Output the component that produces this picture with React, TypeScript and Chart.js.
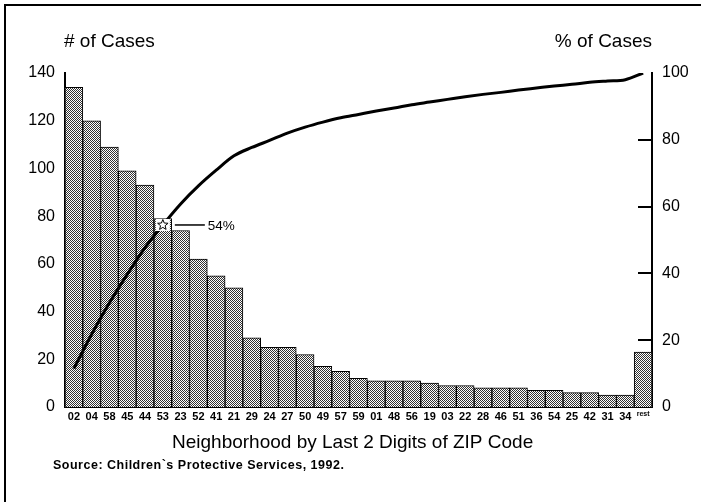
import { useEffect, useRef } from 'react';
import { Chart, registerables } from 'chart.js';

Chart.register(...registerables);

const FONT = '"Liberation Sans", Arial, Helvetica, sans-serif';

const categories = ['02', '04', '58', '45', '44', '53', '23', '52', '41', '21', '29', '24', '27', '50', '49', '57', '59', '01', '48', '56', '19', '03', '22', '28', '46', '51', '36', '54', '25', '42', '31', '34', 'rest'];
const caseCounts = [134, 120, 109, 99, 93, 79, 74, 62, 55, 50, 29, 25, 25, 22, 17, 15, 12, 11, 11, 11, 10, 9, 9, 8, 8, 8, 7, 7, 6, 6, 5, 5, 23];
const cumulativePct = [11.5, 21.8, 31.2, 39.7, 47.7, 54.5, 60.8, 66.2, 70.9, 75.2, 77.7, 79.8, 82.0, 83.8, 85.3, 86.6, 87.6, 88.6, 89.5, 90.5, 91.3, 92.1, 92.9, 93.6, 94.2, 94.9, 95.5, 96.1, 96.6, 97.2, 97.6, 98.0, 100];
const leftTickMax = 140;
const rightTickMax = 100;
const tickStep = 20;
const rightInnerTicks = [20, 40, 60, 80];
const markerIndex = 5;
const markerLabel = '54%';

const leftTitle = '# of Cases';
const rightTitle = '% of Cases';
const xTitle = 'Neighborhood by Last 2 Digits of ZIP Code';
const sourceText = 'Source: Children`s Protective Services, 1992.';

export default function App() {
  const ref = useRef<HTMLCanvasElement>(null);

  useEffect(() => {
    document.body.style.margin = '0';
    const canvas = ref.current!;
    const pc = document.createElement('canvas');
    pc.width = 2;
    pc.height = 2;
    const pctx = pc.getContext('2d')!;
    pctx.fillStyle = '#ffffff';
    pctx.fillRect(0, 0, 2, 2);
    pctx.fillStyle = '#333333';
    pctx.fillRect(0, 0, 1, 1);
    pctx.fillRect(1, 1, 1, 1);
    const pattern = canvas.getContext('2d')!.createPattern(pc, 'repeat');

    const deco = {
      id: 'deco',
      afterDraw(chart: any) {
        const { ctx, scales } = chart;
        const x = scales.x;
        const y1 = scales.y1;
        ctx.save();
        // frame
        ctx.strokeStyle = '#000';
        ctx.lineWidth = 2;
        ctx.beginPath();
        ctx.moveTo(5, 502);
        ctx.lineTo(5, 5);
        ctx.lineTo(701, 5);
        ctx.stroke();

        // inward ticks on right axis
        ctx.lineWidth = 2;
        rightInnerTicks.forEach((v) => {
          const py = Math.round(y1.getPixelForValue(v));
          ctx.beginPath();
          ctx.moveTo(y1.left - 14, py);
          ctx.lineTo(y1.left, py);
          ctx.stroke();
        });

        // titles
        ctx.fillStyle = '#000';
        ctx.textBaseline = 'middle';
        ctx.font = `19px ${FONT}`;
        ctx.textAlign = 'left';
        ctx.fillText(leftTitle, 64, 42);
        ctx.textAlign = 'right';
        ctx.fillText(rightTitle, 652, 42);
        ctx.textAlign = 'left';
        ctx.fillText(xTitle, 172, 443);
        ctx.font = `bold 12.5px ${FONT}`;
        try {
          (ctx as any).letterSpacing = '0.5px';
        } catch (e) {}
        ctx.fillText(sourceText, 53, 466);
        try {
          (ctx as any).letterSpacing = '0px';
        } catch (e) {}

        // marker
        const mx = x.getPixelForValue(markerIndex);
        const my = y1.getPixelForValue(cumulativePct[markerIndex]);
        ctx.fillStyle = '#fff';
        ctx.fillRect(mx - 7, my - 6, 14, 12);
        ctx.beginPath();
        for (let i = 0; i < 10; i++) {
          const r = i % 2 === 0 ? 5.5 : 2.4;
          const a = -Math.PI / 2 + (i * Math.PI) / 5;
          const px = mx + r * Math.cos(a);
          const py = my + r * Math.sin(a);
          if (i === 0) ctx.moveTo(px, py);
          else ctx.lineTo(px, py);
        }
        ctx.closePath();
        ctx.fillStyle = '#fff';
        ctx.fill();
        ctx.lineWidth = 1;
        ctx.strokeStyle = '#000';
        ctx.stroke();
        ctx.lineWidth = 1.5;
        ctx.beginPath();
        ctx.moveTo(mx + 12, my);
        ctx.lineTo(mx + 42, my);
        ctx.stroke();
        ctx.fillStyle = '#000';
        ctx.font = `13.5px ${FONT}`;
        ctx.textAlign = 'left';
        ctx.fillText(markerLabel, mx + 45, my + 1);
        ctx.restore();
      },
    };

    const chart = new Chart(canvas, {
      type: 'bar',
      data: {
        labels: categories,
        datasets: [
          {
            type: 'line',
            label: '% of Cases',
            data: cumulativePct,
            yAxisID: 'y1',
            borderColor: '#000',
            borderWidth: 3,
            pointRadius: 0,
            cubicInterpolationMode: 'monotone',
            fill: false,
            order: 0,
          } as any,
          {
            type: 'bar',
            label: '# of Cases',
            data: caseCounts,
            yAxisID: 'y',
            backgroundColor: pattern as any,
            borderColor: '#000',
            borderWidth: 1,
            categoryPercentage: 1,
            barPercentage: 1,
            order: 1,
          },
        ],
      },
      options: {
        responsive: false,
        maintainAspectRatio: false,
        animation: false,
        devicePixelRatio: 1,
        layout: { padding: { top: 73, left: 0, right: 0, bottom: 0 } },
        plugins: { legend: { display: false }, tooltip: { enabled: false } },
        scales: {
          x: {
            offset: true,
            grid: { display: false, drawTicks: false },
            border: { display: true, color: '#000', width: 2 },
            ticks: {
              color: '#000',
              autoSkip: false,
              maxRotation: 0,
              padding: 3,
              font: (c: any) =>
                c.index === categories.length - 1
                  ? { family: FONT, size: 7, weight: 'bold' }
                  : { family: FONT, size: 11, weight: 'bold' },
            },
            afterFit: (s: any) => {
              s.height = 95;
            },
          },
          y: {
            position: 'left',
            min: 0,
            max: leftTickMax,
            grid: { display: false, drawTicks: false },
            border: { display: true, color: '#000', width: 2 },
            ticks: { stepSize: tickStep, color: '#000', padding: 10, font: { family: FONT, size: 16 } },
            afterFit: (s: any) => {
              s.width = 65;
            },
          },
          y1: {
            position: 'right',
            min: 0,
            max: rightTickMax,
            grid: { display: false, drawTicks: false },
            border: { display: true, color: '#000', width: 2 },
            ticks: { stepSize: tickStep, color: '#000', padding: 10, font: { family: FONT, size: 16 } },
            afterFit: (s: any) => {
              s.width = 49;
            },
          },
        },
      },
      plugins: [deco],
    });
    return () => chart.destroy();
  }, []);

  return (
    <div style={{ position: 'absolute', left: 0, top: 0, width: 701, height: 502, background: '#fff' }}>
      <canvas ref={ref} width={701} height={502} style={{ display: 'block', width: 701, height: 502 }} />
    </div>
  );
}
